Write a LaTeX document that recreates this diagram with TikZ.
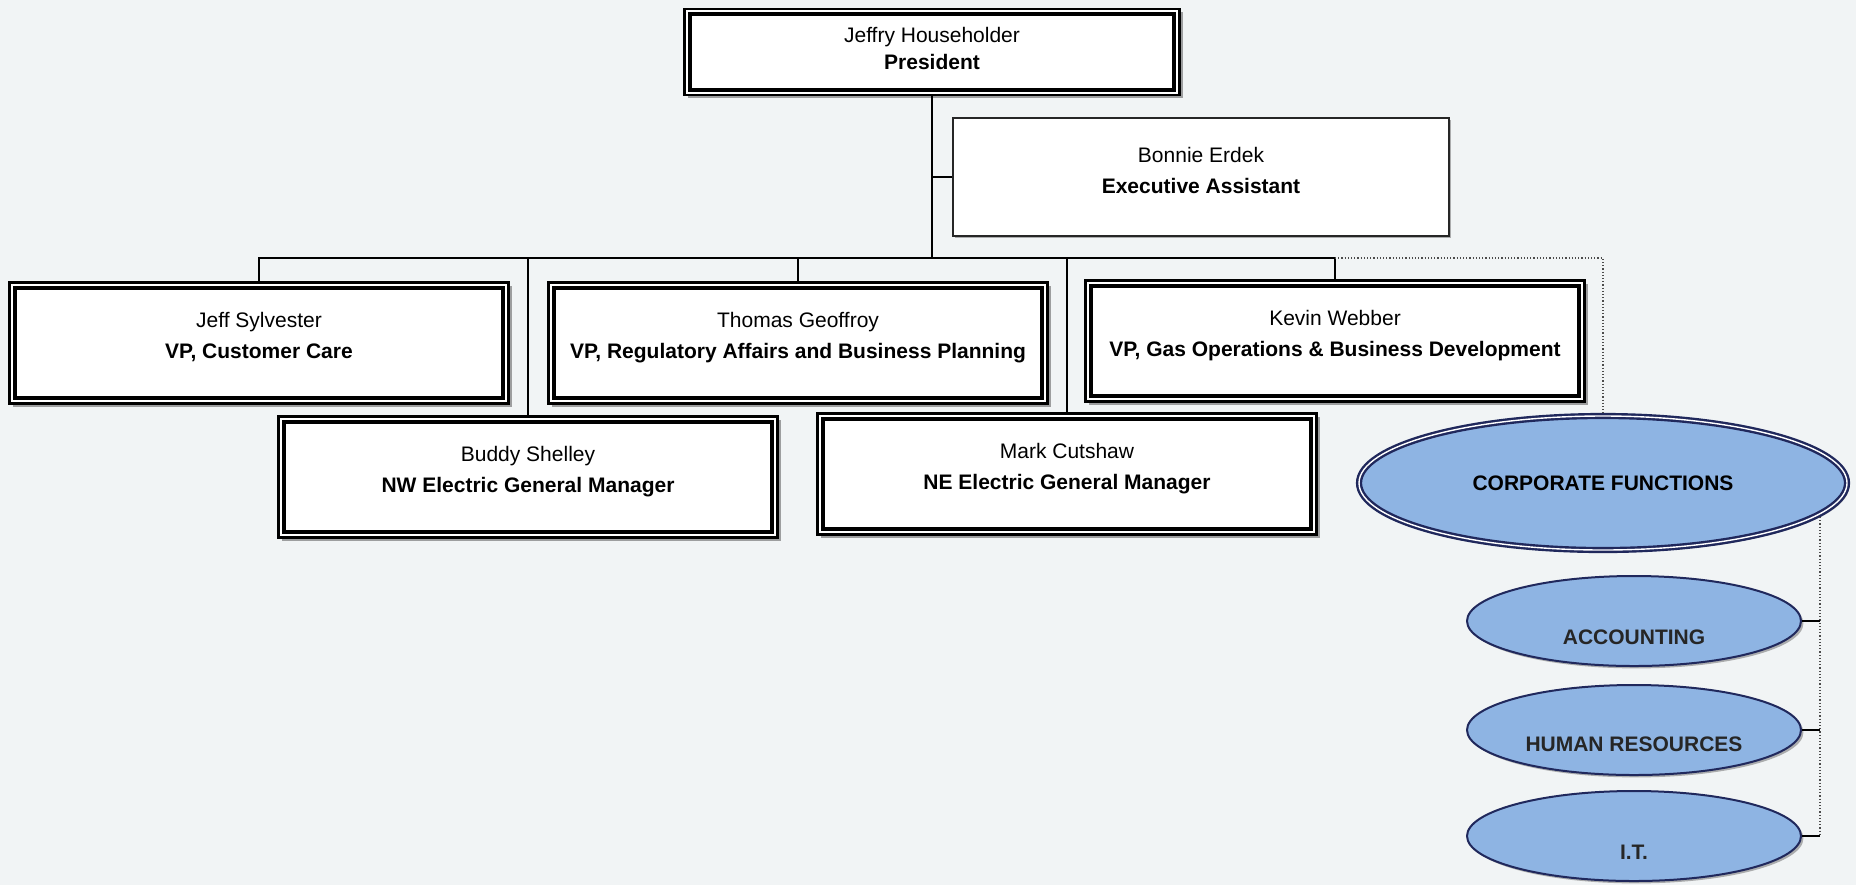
\documentclass[tikz,border=0pt]{standalone}
\usepackage{fontspec}
\setmainfont{Liberation Sans}
\usetikzlibrary{shapes.geometric,shadows}

\definecolor{pagebg}{RGB}{241,244,245}
\definecolor{fnblue}{RGB}{142,180,227}
\definecolor{fnnavy}{RGB}{32,40,92}

\begin{document}
\begin{tikzpicture}[x=0.5pt, y=-0.5pt,
  font=\fontsize{10.5}{15.5}\selectfont,
  officer/.style={rectangle, draw=black, fill=white, align=center,
    line width=1.2pt, minimum width=249.5pt, minimum height=60.5pt, text depth=7.5pt,
    drop shadow={shadow xshift=1.5pt, shadow yshift=-1.5pt, fill=black!60, opacity=0.6},
    path picture={\draw[line width=2pt]
      ([shift={(2.6pt,-2.6pt)}]path picture bounding box.north west) rectangle ([shift={(-2.6pt,2.6pt)}]path picture bounding box.south east);}},
  assistant/.style={rectangle, draw=black!85, fill=white, align=center,
    line width=0.8pt, minimum width=248pt, minimum height=59pt, text depth=6.5pt,
    drop shadow={shadow xshift=1.2pt, shadow yshift=-1.2pt, fill=black!60, opacity=0.5}},
  corpfn/.style={ellipse, draw=fnnavy, fill=fnblue, line width=1.2pt,
    double=white, double distance=0.7pt, outer sep=1.6pt,
    minimum width=244pt, minimum height=67pt, font=\fontsize{10.5}{12}\selectfont\bfseries,
    drop shadow={shadow xshift=1.2pt, shadow yshift=-1.2pt, fill=black!60, opacity=0.5}},
  fnunit/.style={ellipse, draw=fnnavy, fill=fnblue, line width=1pt,
    minimum width=167pt, minimum height=45pt, outer sep=0.5pt,
    drop shadow={shadow xshift=1.2pt, shadow yshift=-1.2pt, fill=black!60, opacity=0.5}},
  fnlabel/.style={font=\fontsize{10.5}{12}\selectfont\bfseries, text=black!85},
  link/.style={draw=black, line width=0.7pt},
  dotline/.style={draw=black!70, line width=0.6pt, densely dotted}]

  % page
  \fill[pagebg] (0,0) rectangle (1856,885);
  \useasboundingbox (0,0) rectangle (1856,885);

  \node[officer, minimum width=247.5pt, minimum height=43pt, text depth=3.5pt] (pres) at (932,52) {Jeffry Householder\\[-2pt]\textbf{President}};
  \node[assistant] (bonnie) at (1201,177) {Bonnie Erdek\\\textbf{Executive Assistant}};

  \node[officer] (jeff) at (259,343) {Jeff Sylvester\\\textbf{VP, Customer Care}};
  \node[officer] (thomas) at (798,343) {Thomas Geoffroy\\\textbf{VP, Regulatory Affairs and Business Planning}};
  \node[officer] (kevin) at (1335,341) {Kevin Webber\\\textbf{VP, Gas Operations \& Business Development}};
  \node[officer] (buddy) at (528,477) {Buddy Shelley\\\textbf{NW Electric General Manager}};
  \node[officer] (mark) at (1067,474) {Mark Cutshaw\\\textbf{NE Electric General Manager}};

  \node[corpfn] (corp) at (1603,483) {CORPORATE FUNCTIONS};
  \node[fnunit, label={[fnlabel, yshift=-8pt]center:ACCOUNTING}] (acct) at (1634,621) {};
  \node[fnunit, label={[fnlabel, yshift=-7pt]center:HUMAN RESOURCES}] (hr) at (1634,730) {};
  \node[fnunit, label={[fnlabel, yshift=-8pt]center:I.T.}] (it) at (1634,836) {};

  \coordinate (bus) at (932,258);
  \coordinate (fnbus) at (1820,517);

  \draw[link] (pres.south) -- (bus);
  \draw[link] (pres.south |- bonnie.west) -- (bonnie.west);
  \draw[link] (jeff.north) -- (jeff.north |- bus) -- (kevin.north |- bus) -- (kevin.north);
  \draw[link] (thomas.north) -- (thomas.north |- bus);
  \draw[link] (buddy.north) -- (buddy.north |- bus);
  \draw[link] (mark.north) -- (mark.north |- bus);

  % corporate functions
  \draw[dotline] (kevin.north |- bus) -| (corp.north);
  \draw[dotline] (fnbus) -- (fnbus |- it.east);
  \draw[link] (acct.east) -- (acct.east -| fnbus);
  \draw[link] (hr.east) -- (hr.east -| fnbus);
  \draw[link] (it.east) -- (it.east -| fnbus);
\end{tikzpicture}
\end{document}
